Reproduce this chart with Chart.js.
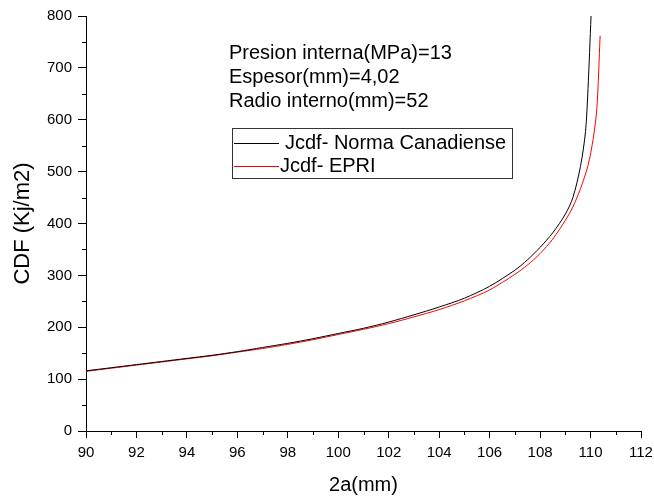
<!DOCTYPE html>
<html lang="en">
  <head>
    <title>CDF vs 2a</title>
    <meta charset="utf-8" />
    <script src="https://cdn.jsdelivr.net/npm/chart.js@4.4.9/dist/chart.umd.min.js"></script>
  </head>

  <body style="padding: 0; margin: 0; background: #fff">
    <canvas id="myChart" width="654" height="497"></canvas>

    <script>
      // Jcdf - Norma Canadiense (black)
      const xNorma = [90, 91, 92, 93, 94, 95, 96, 97, 98, 99, 100, 101, 102, 103, 104, 105, 106, 107, 107.5, 108, 108.5, 109, 109.3, 109.6, 109.8, 109.9, 110.02];
      const yNorma = [116, 122, 128, 134, 140, 146, 153, 161, 169, 178, 188, 198, 210, 224, 239, 256, 279, 310, 330, 354, 382, 418, 450, 510, 577, 660, 800];
      // Jcdf - EPRI (red)
      const xEpri = [90, 91, 92, 93, 94, 95, 96, 97, 98, 99, 100, 101, 102, 103, 104, 105, 106, 107, 107.5, 108, 108.5, 109, 109.3, 109.6, 109.9, 110.1, 110.25, 110.38];
      const yEpri = [115, 121, 127, 133, 139, 145, 152, 159, 167, 176, 186, 196, 207, 220, 234, 251, 272, 302, 320, 342, 370, 406, 432, 467, 512, 562, 622, 762];

      const seriesNames = ["Jcdf- Norma Canadiense", "Jcdf- EPRI"];
      const infoLines = ["Presion interna(MPa)=13", "Espesor(mm)=4,02", "Radio interno(mm)=52"];
      const xTitle = "2a(mm)";
      const yTitle = "CDF (Kj/m2)";
      const xMinorTicks = [91, 93, 95, 97, 99, 101, 103, 105, 107, 109, 111];
      const yMinorTicks = [50, 150, 250, 350, 450, 550, 650, 750];

      const FONT = "'Liberation Sans', Arial, sans-serif";

      const toPoints = (xs, ys) => xs.map((x, i) => ({ x: x, y: ys[i] }));

      // short minor ticks, placed through the chart scales
      const minorTickPlugin = {
        id: "minor_ticks",
        afterDraw(chart) {
          const { ctx } = chart;
          const xs = chart.scales.x;
          const ys = chart.scales.y;
          ctx.save();
          ctx.strokeStyle = "#000";
          ctx.lineWidth = 1;
          ctx.beginPath();
          for (const v of xMinorTicks) {
            const px = Math.round(xs.getPixelForValue(v)) + 0.5;
            ctx.moveTo(px, xs.top);
            ctx.lineTo(px, xs.top + 4);
          }
          for (const v of yMinorTicks) {
            const py = Math.round(ys.getPixelForValue(v)) + 0.5;
            ctx.moveTo(ys.right, py);
            ctx.lineTo(ys.right - 4, py);
          }
          ctx.stroke();
          ctx.restore();
        },
      };

      // text block and legend box drawn over the plot
      const notesPlugin = {
        id: "notes",
        afterDraw(chart) {
          const ctx = chart.ctx;
          ctx.save();
          ctx.fillStyle = "#000";
          ctx.font = `20px ${FONT}`;
          ctx.textBaseline = "middle";
          ctx.textAlign = "left";
          infoLines.forEach((t, i) => ctx.fillText(t, 229, 53 + i * 24));

          // legend box
          ctx.strokeStyle = "#333";
          ctx.lineWidth = 1;
          ctx.strokeRect(232.5, 128.5, 280, 50);
          const colors = ["#000000", "#ff0000"];
          const rows = [143, 166];
          const textX = [285, 280];
          rows.forEach((y, i) => {
            ctx.strokeStyle = colors[i];
            ctx.beginPath();
            ctx.moveTo(234, y + 0.5);
            ctx.lineTo(279, y + 0.5);
            ctx.stroke();
            ctx.fillText(seriesNames[i], textX[i], y);
          });
          ctx.restore();
        },
      };

      const config = {
        type: "scatter",
        data: {
          datasets: [
            {
              label: seriesNames[0],
              data: toPoints(xNorma, yNorma),
              showLine: true,
              borderColor: "#000000",
              backgroundColor: "#000000",
              borderWidth: 1,
              pointRadius: 0,
              tension: 0.3,
            },
            {
              label: seriesNames[1],
              data: toPoints(xEpri, yEpri),
              showLine: true,
              borderColor: "#ff0000",
              backgroundColor: "#ff0000",
              borderWidth: 1,
              pointRadius: 0,
              tension: 0.3,
            },
          ],
        },
        plugins: [minorTickPlugin, notesPlugin],
        options: {
          responsive: false,
          animation: false,
          layout: { padding: { top: 16, right: 13, left: 0, bottom: 0 } },
          plugins: {
            legend: { display: false },
            tooltip: { enabled: false },
          },
          scales: {
            x: {
              type: "linear",
              min: 90,
              max: 112,
              afterFit(scale) {
                scale.height = 66;
                scale.paddingRight = 8;
              },
              border: { color: "#000", width: 1 },
              grid: { drawOnChartArea: false, drawTicks: true, tickLength: 7, color: "#000" },
              ticks: {
                stepSize: 2,
                autoSkip: false,
                maxRotation: 0,
                padding: 6,
                color: "#000",
                font: { family: FONT, size: 15 },
              },
              title: {
                display: true,
                text: xTitle,
                color: "#000",
                font: { family: FONT, size: 20 },
                padding: { top: 0, bottom: 0 },
              },
            },
            y: {
              min: 0,
              max: 800,
              afterFit(scale) {
                scale.width = 86;
              },
              border: { color: "#000", width: 1 },
              grid: { drawOnChartArea: false, drawTicks: true, tickLength: 8, color: "#000" },
              ticks: {
                stepSize: 100,
                autoSkip: false,
                padding: 6,
                color: "#000",
                font: { family: FONT, size: 15 },
              },
              title: {
                display: true,
                text: yTitle,
                color: "#000",
                font: { family: FONT, size: 22 },
                padding: { top: 10, bottom: 0 },
              },
            },
          },
        },
      };

      new Chart(document.getElementById("myChart"), config);
    </script>
  </body>
</html>
